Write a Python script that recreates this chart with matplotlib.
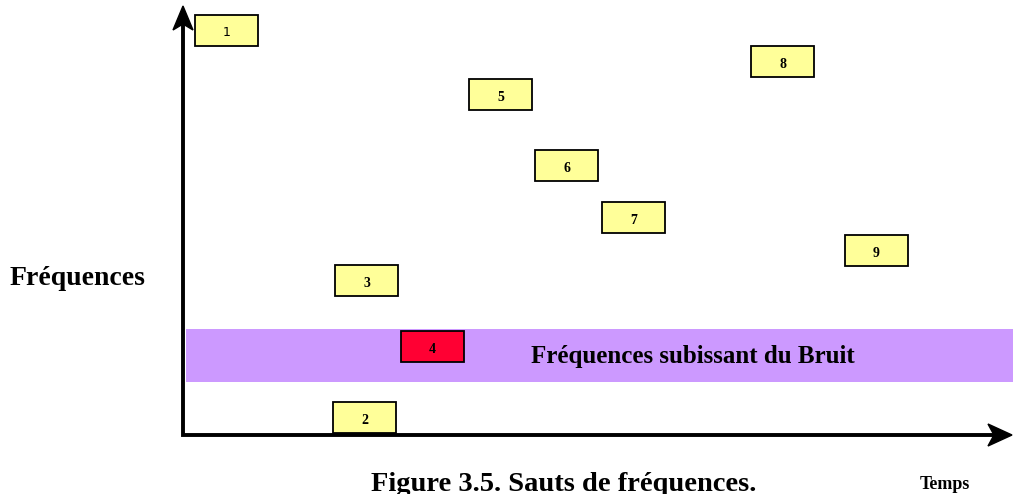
import matplotlib.pyplot as plt
from matplotlib.patches import Rectangle, Polygon

# hop boxes: label, left edge (time, px), top edge (frequency, px from top)
hop_labels = ['1', '2', '3', '4', '5', '6', '7', '8', '9']
hop_times = [195, 333, 335, 401, 469, 535, 602, 751, 845]
hop_freqs = [15, 402, 265, 331, 79, 150, 202, 46, 235]
hop_colors = ['#FFFF99', '#FFFF99', '#FFFF99', '#FF0033', '#FFFF99',
              '#FFFF99', '#FFFF99', '#FFFF99', '#FFFF99']
box_w, box_h = 63, 31

# noisy band (top, bottom)
noise_band = (329, 382)

fig = plt.figure(figsize=(10.13, 4.94), dpi=100)
ax = fig.add_axes([0, 0, 1, 1])
ax.set_xlim(0, 1013)
ax.set_ylim(494, 0)
ax.axis('off')

serif = ['Liberation Serif', 'DejaVu Serif']

# noise band
ax.add_patch(Rectangle((186, noise_band[0]), 830, noise_band[1] - noise_band[0],
                       facecolor='#CC99FF', edgecolor='none', zorder=1))
ax.text(693, 356, 'Fréquences subissant du Bruit', ha='center', va='center',
        fontsize=18, fontweight='bold', family=serif, zorder=3)

# axes with barbed arrowheads
ax.plot([183, 183, 1000], [20, 435, 435], color='black', lw=2.8,
        solid_joinstyle='miter', zorder=4)
ax.add_patch(Polygon([(183, 6), (193, 30), (183, 24), (173, 30)],
                     closed=True, facecolor='black', edgecolor='black', lw=1, zorder=5))
ax.add_patch(Polygon([(1012, 435), (988, 446), (994, 435), (988, 424)],
                     closed=True, facecolor='black', edgecolor='black', lw=1, zorder=5))

# hop boxes
for lab, t, f, c in zip(hop_labels, hop_times, hop_freqs, hop_colors):
    ax.add_patch(Rectangle((t, f), box_w, box_h, facecolor=c,
                           edgecolor='black', lw=1.3, zorder=2))
    if lab == '1':
        ax.text(t + box_w / 2, f + box_h / 2 + 2, lab, ha='center', va='center',
                fontsize=9, family='DejaVu Sans', zorder=3)
    else:
        ax.text(t + box_w / 2, f + box_h / 2 + 3, lab, ha='center', va='center',
                fontsize=10, fontweight='bold', family=serif, zorder=3)

# labels
ax.text(10, 278, 'Fréquences', ha='left', va='center', fontsize=20,
        fontweight='bold', family=serif)
ax.text(945, 484, 'Temps', ha='center', va='center', fontsize=13,
        fontweight='bold', family=serif)
ax.text(564, 484, 'Figure 3.5. Sauts de fréquences.', ha='center', va='center',
        fontsize=20.5, fontweight='bold', family=serif)

fig.savefig('out.png', dpi=100)
